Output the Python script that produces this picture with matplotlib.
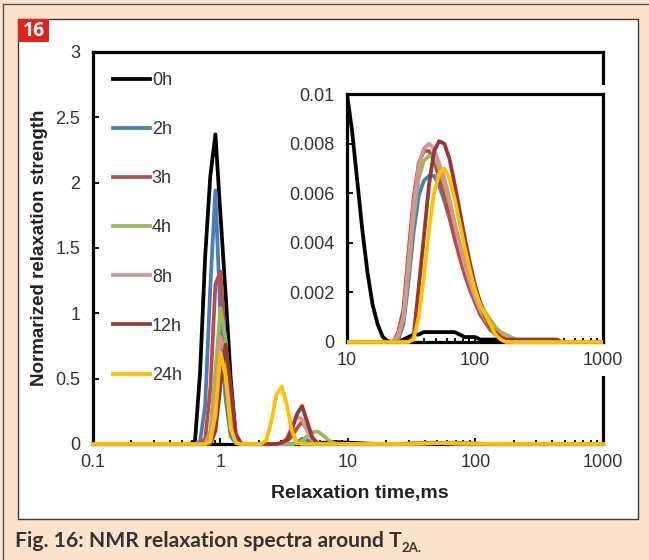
import numpy as np
import matplotlib
matplotlib.use('Agg')
import matplotlib.pyplot as plt
from matplotlib.patches import Rectangle
from matplotlib.lines import Line2D
from matplotlib.transforms import Bbox, TransformedBbox
from matplotlib.ticker import LogLocator, NullFormatter

# T2 grid of the inversion: 25 points per decade, 0.1 .. 1000 ms
t2 = np.logspace(-1, 3, 101)

series_labels = ['0h', '2h', '3h', '4h', '8h', '12h', '24h']
series_colors = ['#000000', '#4a7ebb', '#be4b48', '#98b954', '#d69492',
                 '#953735', '#ffc000']

# amplitudes, {first grid index: values}
amp_0h = {20: [0.02, 0.55, 1.44, 2.05, 2.37, 1.75, 1.15, 0.50, 0.05],
          43: [0.001, 0.004, 0.008, 0.012, 0.015, 0.014, 0.012, 0.0100,
               0.0085, 0.0065, 0.0045, 0.0028, 0.0015, 0.0007, 0.0002,
               0.00003],
          61: [0.0001, 0.0002, 0.0003, 0.0003, 0.0004, 0.0004, 0.0004,
               0.0004, 0.0004, 0.0004, 0.0004, 0.0003, 0.0002, 0.0002,
               0.0002, 0.0001, 0.0001, 0.0001, 0.0001, 0.00005]}
amp_2h = {21: [0.02, 0.30, 1.20, 1.94, 0.95, 0.35, 0.06, 0.005],
          40: [0.01, 0.04, 0.03, 0.01],
          60: [0.0001, 0.0007, 0.0024, 0.0044, 0.0059, 0.0065, 0.0067,
               0.0067, 0.0063, 0.0057, 0.0050, 0.0042, 0.0035, 0.0028,
               0.0022, 0.0017, 0.0012, 0.0008, 0.0005, 0.0003, 0.0002,
               0.0001, 0.0]}
amp_3h = {22: [0.04, 0.42, 1.22, 1.32, 0.72, 0.18, 0.02],
          38: [0.02, 0.06, 0.12, 0.17, 0.11, 0.04, 0.01],
          59: [0.0, 0.0004, 0.0013, 0.0036, 0.0058, 0.0072, 0.0077,
               0.0077, 0.0073, 0.0066, 0.0059, 0.0051, 0.0042, 0.0034,
               0.0027, 0.0021, 0.0016, 0.0011, 0.0008, 0.0005, 0.0003,
               0.0002, 0.0001, 0.0]}
amp_4h = {23: [0.10, 0.55, 1.04, 0.80, 0.25, 0.03],
          40: [0.005, 0.02, 0.06, 0.09, 0.095, 0.07, 0.035, 0.01, 0.002],
          60: [0.0002, 0.0009, 0.0028, 0.0050, 0.0066, 0.0073, 0.0075,
               0.0075, 0.0070, 0.0064, 0.0056, 0.0048, 0.0040, 0.0033,
               0.0027, 0.0021, 0.0016, 0.0012, 0.0009, 0.0006, 0.0004,
               0.0003, 0.0002, 0.0001, 0.00005, 0.0]}
amp_8h = {23: [0.05, 0.35, 0.82, 0.70, 0.22, 0.02],
          38: [0.05, 0.13, 0.21, 0.19, 0.10, 0.03, 0.005],
          59: [0.0, 0.0003, 0.0010, 0.0032, 0.0055, 0.0071, 0.0078,
               0.0080, 0.0078, 0.0072, 0.0066, 0.0058, 0.0048, 0.0039,
               0.0031, 0.0024, 0.0018, 0.0013, 0.0009, 0.0006, 0.0004,
               0.0003, 0.0002, 0.0001, 0.00005, 0.0]}
amp_12h = {24: [0.10, 0.45, 0.76, 0.45, 0.08, 0.005],
           37: [0.01, 0.03, 0.11, 0.23, 0.29, 0.17, 0.05, 0.005],
           63: [0.0002, 0.0022, 0.0042, 0.0063, 0.0077, 0.0081, 0.0080,
                0.0074, 0.0064, 0.0053, 0.0042, 0.0032, 0.0023, 0.0016,
                0.0010, 0.0006, 0.0004, 0.0002, 0.0001, 0.0001, 0.0001,
                0.0001, 0.0001, 0.0001, 0.0001, 0.0001, 0.0001, 0.0001,
                0.0001, 0.0]}
amp_24h = {23: [0.02, 0.22, 0.70, 0.52, 0.12, 0.01],
           34: [0.03, 0.18, 0.38, 0.44, 0.30, 0.10, 0.01],
           63: [0.0001, 0.0010, 0.0026, 0.0045, 0.0060, 0.0068, 0.0070,
                0.0066, 0.0058, 0.0048, 0.0038, 0.0029, 0.0021, 0.0015,
                0.0011, 0.0007, 0.0003, 0.0001, 0.0]}

main_xticks = [0.1, 1, 10, 100, 1000]
main_xticklabels = ['0.1', '1', '10', '100', '1000']
main_yticks = [0, 0.5, 1, 1.5, 2, 2.5, 3]
main_yticklabels = ['0', '0.5', '1', '1.5', '2', '2.5', '3']
inset_xticks = [10, 100, 1000]
inset_xticklabels = ['10', '100', '1000']
inset_yticks = [0, 0.002, 0.004, 0.006, 0.008, 0.01]
inset_yticklabels = ['0', '0.002', '0.004', '0.006', '0.008', '0.01']


def spectrum(segs):
    a = np.zeros(len(t2))
    for i0, vals in segs.items():
        a[i0:i0 + len(vals)] = vals
    return a


amps = [spectrum(s) for s in
        [amp_0h, amp_2h, amp_3h, amp_4h, amp_8h, amp_12h, amp_24h]]

plt.rcParams['font.family'] = ['Liberation Sans', 'DejaVu Sans']

W, H = 649, 560
fig = plt.figure(figsize=(W / 100, H / 100), dpi=100, facecolor='#fde3cc')

# page frame, white panel, figure number badge
fig.add_artist(Line2D([3 / W, 3 / W], [0, 1 - 4 / H], transform=fig.transFigure,
                      color='#555555', lw=1))
fig.add_artist(Line2D([3 / W, 1], [1 - 4 / H, 1 - 4 / H], transform=fig.transFigure,
                      color='#555555', lw=1))
fig.add_artist(Rectangle((18 / W, 1 - 519 / H), 620 / W, 500 / H,
                         transform=fig.transFigure, fc='white', ec='#3a3a3a',
                         lw=1, zorder=0))
fig.add_artist(Rectangle((18 / W, 1 - 42 / H), 31 / W, 23 / H,
                         transform=fig.transFigure, fc='#e2231a', ec='none'))
fig.text(33.5 / W, 1 - 31 / H, '16', color='white', fontsize=14,
         weight='bold', family='Open Sans', ha='center', va='center')

ax = fig.add_axes([93 / W, 1 - 444 / H, 510 / W, 392 / H])
axin = fig.add_axes([347 / W, 1 - 342 / H, 256 / W, 248 / H])

for lab, col, amp in zip(series_labels, series_colors, amps):
    ax.plot(t2, amp, color=col, lw=2.7, label=lab, zorder=3, clip_on=False)
    ln, = axin.plot(t2, amp, color=col, lw=2.7, zorder=3)
    ln.set_clip_box(TransformedBbox(Bbox([[0, -0.02], [1, 1]]), axin.transAxes))

# white area behind the inset and its labels (hides the main right spine there)
ax.add_patch(Rectangle((290 / W, 1 - 376 / H), 330 / W, 291 / H,
                       transform=fig.transFigure, fc='white', ec='none',
                       zorder=4, clip_on=False))

tick_color = '#333333'
for a in (ax, axin):
    a.set_xscale('log')
    for s in a.spines.values():
        s.set_linewidth(2.3)
    a.xaxis.set_minor_locator(LogLocator(base=10, subs=np.arange(2, 10)))
    a.xaxis.set_minor_formatter(NullFormatter())
    a.tick_params(which='major', direction='in', length=4, width=1.3,
                  labelsize=13, labelcolor=tick_color, top=False, right=False)
    a.tick_params(which='minor', direction='in', length=3, width=1.3,
                  top=False, right=False)
    a.tick_params(axis='x', pad=7)
    a.tick_params(axis='y', pad=9)

ax.set_xlim(0.1, 1000)
ax.set_ylim(0, 3)
ax.set_xticks(main_xticks, labels=main_xticklabels)
ax.set_yticks(main_yticks, labels=main_yticklabels)
ax.set_xlabel('Relaxation time,ms', fontsize=14, weight='bold', color='#222222')
ax.set_ylabel('Normarized relaxation strength', fontsize=13.5, weight='bold',
              color='#222222')
ax.xaxis.set_label_coords(0.523, -0.105)
ax.yaxis.set_label_coords(-0.088, 0.5)

axin.set_xlim(10, 1000)
axin.set_ylim(0, 0.01)
axin.set_xticks(inset_xticks, labels=inset_xticklabels)
axin.set_yticks(inset_yticks, labels=inset_yticklabels)

ax.legend(loc='upper left', bbox_to_anchor=(113 / W, 1 - 72 / H),
          bbox_transform=fig.transFigure, frameon=False, fontsize=13,
          handlelength=2.05, handletextpad=0.1, labelspacing=1.78,
          borderpad=0, borderaxespad=0, labelcolor=tick_color)

# caption with subscript
cap = fig.text(15 / W, 1 - 547 / H, 'Fig. 16: NMR relaxation spectra around T',
               fontsize=15.2, weight='bold', family='Lato', color='#333333',
               va='baseline')
r = fig.canvas.get_renderer()
bb = cap.get_window_extent(r)
fig.text(bb.x1 / fig.bbox.width, 1 - 552 / H, '2A.', fontsize=9.5, weight='bold',
         family='Lato', color='#333333', va='baseline')

fig.savefig('out.png', dpi=100, facecolor=fig.get_facecolor())
